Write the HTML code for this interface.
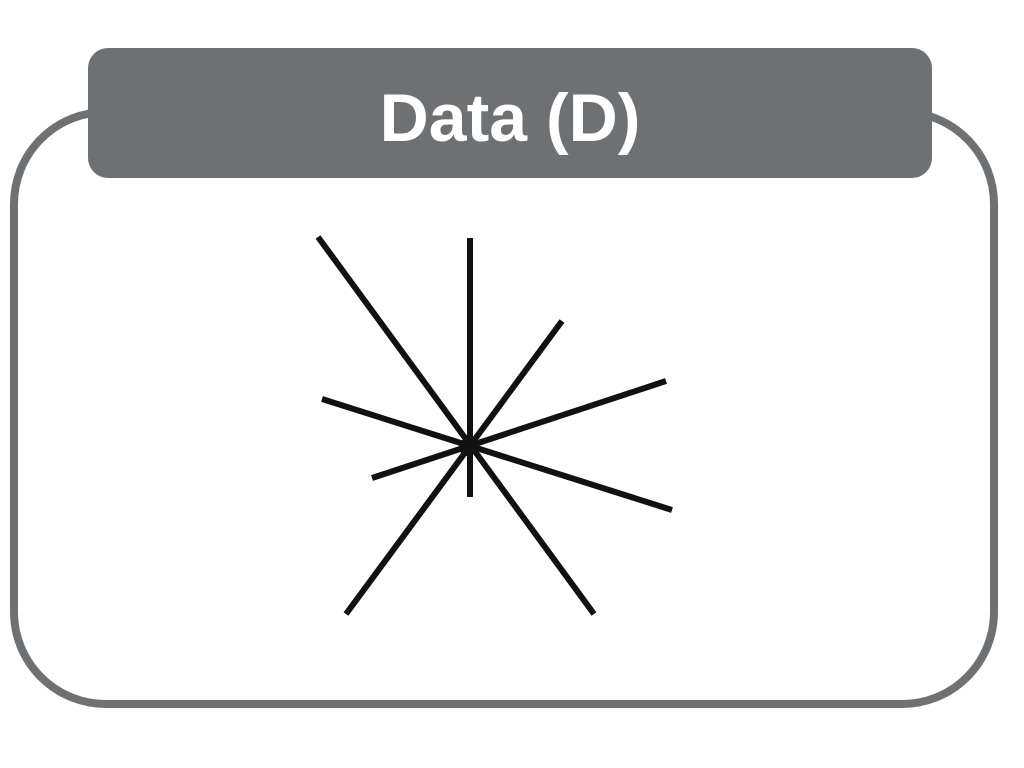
<!DOCTYPE html>
<html>
<head>
<meta charset="utf-8">
<style>
  html,body{margin:0;padding:0;background:#fff;width:1024px;height:768px;overflow:hidden;}
  svg{display:block;}
</style>
</head>
<body>
<svg id="chart" width="1024" height="768" viewBox="0 0 1024 768" xmlns="http://www.w3.org/2000/svg">
  <rect x="14" y="112" width="980" height="592" rx="92" ry="92" fill="#fff" stroke="#6e7174" stroke-width="8"/>
  <rect x="88" y="48" width="844" height="130" rx="20" ry="20" fill="#6e7174"/>
  <text x="510" y="141" text-anchor="middle" font-family="'Liberation Sans', sans-serif" font-weight="bold" font-size="68" fill="#fff">Data (D)</text>
  <g id="rays"></g>
</svg>
<script>
// Line segment endpoints of the starburst glyph (start x/y, end x/y)
const startX = [470, 318, 562, 322, 372];
const startY = [238, 237, 321, 399, 478];
const endX   = [470, 594, 346, 672, 666];
const endY   = [497, 614, 614, 510, 381];

const g = document.getElementById('rays');
for (let i = 0; i < startX.length; i++) {
  const l = document.createElementNS('http://www.w3.org/2000/svg', 'line');
  l.setAttribute('x1', startX[i]);
  l.setAttribute('y1', startY[i]);
  l.setAttribute('x2', endX[i]);
  l.setAttribute('y2', endY[i]);
  l.setAttribute('stroke', '#111');
  l.setAttribute('stroke-width', '6');
  
  
  g.appendChild(l);
}
const c = document.createElementNS('http://www.w3.org/2000/svg', 'circle');
c.setAttribute('cx', 468);
c.setAttribute('cy', 447);
c.setAttribute('r', 9);
c.setAttribute('fill', '#111');


g.appendChild(c);
</script>
</body>
</html>
